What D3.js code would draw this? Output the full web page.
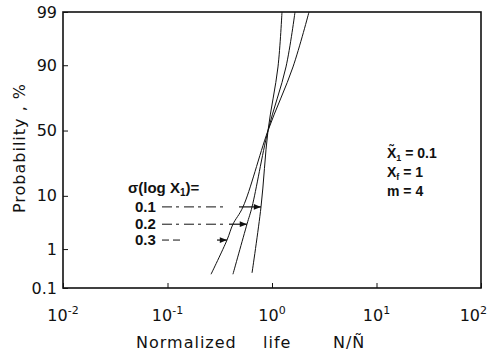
<!DOCTYPE html>
<html>
<head>
<meta charset="utf-8">
<script src="https://cdn.jsdelivr.net/npm/d3@7"></script>
<style>
  body { margin: 0; background: #fff; }
  svg { display: block; }
  .tick line { stroke: #111; }
  .thin { font-family: 'DejaVu Sans', sans-serif; fill: #111; }
  .bold { font-family: 'Liberation Sans', Arial, sans-serif; font-weight: bold; fill: #111; }
</style>
</head>
<body>
<svg width="489" height="357"></svg>
<script>
// curves: normalized life vs cumulative probability (%), one per sigma(log X1)
const sigmaLabels = ['0.1', '0.2', '0.3'];
const life01 = [0.644, 0.785, 0.916, 1.141, 1.246];
const prob01 = [0.26, 6.7, 50, 89.4, 99];
const life02 = [0.423, 0.576, 0.644, 0.916, 1.361, 1.66];
const prob02 = [0.24, 3.3, 6.7, 50, 89.4, 99];
const life03 = [0.261, 0.371, 0.423, 0.528, 0.916, 1.588, 2.26];
const prob03 = [0.24, 1.58, 3.3, 6.7, 50, 89.4, 99];

// where the arrows touch each curve
const arrowLife = [0.785, 0.576, 0.371];
const arrowProb = [6.7, 3.3, 1.58];

const xTicks = [0.01, 0.1, 1, 10, 100];
const xTickExp = ['-2', '-1', '0', '1', '2'];
const yTicks = [0.1, 1, 10, 50, 90, 99];
const yTickLabels = ['0.1', '1', '10', '50', '90', '99'];

const plotL = 63, plotR = 481, plotT = 12, plotB = 288;
const svg = d3.select('svg');

// inverse normal cdf (Acklam)
function probit(p) {
  const a = [-39.69683028665376, 220.9460984245205, -275.9285104469687, 138.357751867269, -30.66479806614716, 2.506628277459239];
  const b = [-54.47609879822406, 161.5858368580409, -155.6989798598866, 66.80131188771972, -13.28068155288572];
  const c = [-0.007784894002430293, -0.3223964580411365, -2.400758277161838, -2.549732539343734, 4.374664141464968, 2.938163982698783];
  const d = [0.007784695709041462, 0.3224671290700398, 2.445134137142996, 3.754408661907416];
  const pl = 0.02425;
  let q, r;
  if (p < pl) {
    q = Math.sqrt(-2 * Math.log(p));
    return (((((c[0]*q+c[1])*q+c[2])*q+c[3])*q+c[4])*q+c[5]) / ((((d[0]*q+d[1])*q+d[2])*q+d[3])*q+1);
  } else if (p <= 1 - pl) {
    q = p - 0.5; r = q * q;
    return (((((a[0]*r+a[1])*r+a[2])*r+a[3])*r+a[4])*r+a[5])*q / (((((b[0]*r+b[1])*r+b[2])*r+b[3])*r+b[4])*r+1);
  }
  q = Math.sqrt(-2 * Math.log(1 - p));
  return -(((((c[0]*q+c[1])*q+c[2])*q+c[3])*q+c[4])*q+c[5]) / ((((d[0]*q+d[1])*q+d[2])*q+d[3])*q+1);
}

const x = d3.scaleLog().domain([0.01, 100]).range([plotL, plotR]);
const yz = d3.scaleLinear().domain([probit(0.001), probit(0.99)]).range([plotB, plotT]);
const y = p => yz(probit(p / 100));

// frame
svg.append('rect')
  .attr('x', plotL).attr('y', plotT)
  .attr('width', plotR - plotL).attr('height', plotB - plotT)
  .attr('fill', 'none').attr('stroke', '#111').attr('stroke-width', 1.6);

// bottom axis, ticks pointing in
svg.append('g')
  .attr('transform', `translate(0,${plotB})`)
  .call(d3.axisBottom(x).tickValues(xTicks).tickSizeInner(-5).tickSizeOuter(0).tickFormat(''))
  .call(g => g.select('.domain').remove());

const xl = svg.append('g').attr('class', 'thin');
xTicks.forEach((v, i) => {
  const last = i === xTicks.length - 1;
  const t = xl.append('text')
    .attr('x', last ? 487 : x(v)).attr('y', 321)
    .attr('text-anchor', last ? 'end' : 'middle')
    .style('font-size', '16px');
  t.append('tspan').text('10');
  t.append('tspan').attr('dy', -7).style('font-size', '11px').text(xTickExp[i]);
});

// left axis
svg.append('g')
  .attr('transform', `translate(${plotL},0)`)
  .call(d3.axisLeft(yz).tickValues(yTicks.map(p => probit(p / 100)))
    .tickSizeInner(-5).tickSizeOuter(0).tickPadding(6)
    .tickFormat((d, i) => yTickLabels[i]))
  .call(g => g.select('.domain').remove())
  .call(g => g.selectAll('text')
    .style('font-size', '16px')
    .style('font-family', "'DejaVu Sans', sans-serif")
    .attr('fill', '#111'));

// curves
const line = d3.line()
  .x(d => x(d[0]))
  .y(d => y(d[1]))
  .curve(d3.curveCatmullRom);

[[life01, prob01], [life02, prob02], [life03, prob03]].forEach(([l, p]) => {
  svg.append('path')
    .attr('d', line(l.map((v, i) => [v, p[i]])))
    .attr('fill', 'none')
    .attr('stroke', '#111')
    .attr('stroke-width', 1);
});

// arrow head
svg.append('defs').append('marker')
  .attr('id', 'head')
  .attr('viewBox', '0 0 10 10')
  .attr('refX', 10).attr('refY', 5)
  .attr('markerWidth', 8).attr('markerHeight', 6)
  .attr('orient', 'auto')
  .append('path').attr('d', 'M0,1 L10,5 L0,9 Z').attr('fill', '#111');

// sigma annotation
const ann = svg.append('text').attr('class', 'bold')
  .attr('x', 128).attr('y', 193).style('font-size', '15px');
ann.append('tspan').text('σ(log X');
ann.append('tspan').attr('dy', 3).style('font-size', '10px').text('1');
ann.append('tspan').attr('dy', -3).text(')=');

const dashEnd = [228, 227, 183];
const solidLen = [22, 18, 10];
sigmaLabels.forEach((s, i) => {
  const ay = y(arrowProb[i]);
  const ax = x(arrowLife[i]);
  svg.append('text').attr('class', 'bold')
    .attr('x', 135).attr('y', ay + 5)
    .style('font-size', '15px')
    .text(s);
  svg.append('line')
    .attr('x1', 162).attr('x2', dashEnd[i])
    .attr('y1', ay).attr('y2', ay)
    .attr('stroke', '#111').attr('stroke-width', 1)
    .attr('stroke-dasharray', i === 2 ? '7,4' : '10,4,3,5');
  svg.append('line')
    .attr('x1', ax - solidLen[i]).attr('x2', ax)
    .attr('y1', ay).attr('y2', ay)
    .attr('stroke', '#111').attr('stroke-width', 1.2)
    .attr('marker-end', 'url(#head)');
});

// parameters
const par = svg.append('g').attr('class', 'bold').style('font-size', '14px');
const p1 = par.append('text').attr('x', 387).attr('y', 158);
p1.append('tspan').text('X\u0303');
p1.append('tspan').attr('dy', 3).style('font-size', '9px').text('1');
p1.append('tspan').attr('dy', -3).text(' = 0.1');
const p2 = par.append('text').attr('x', 387).attr('y', 177);
p2.append('tspan').text('X');
p2.append('tspan').attr('dy', 3).style('font-size', '9px').text('f');
p2.append('tspan').attr('dy', -3).text(' = 1');
par.append('text').attr('x', 387).attr('y', 196).text('m = 4');

// axis titles
const xt = svg.append('g').attr('class', 'thin').style('font-size', '16px').style('letter-spacing', '1px');
xt.append('text').attr('x', 136).attr('y', 348).text('Normalized');
xt.append('text').attr('x', 263).attr('y', 348).text('life');
xt.append('text').attr('x', 333).attr('y', 348).text('N/Ñ');

svg.append('text').attr('class', 'thin')
  .attr('transform', 'translate(25,148) rotate(-90)')
  .attr('text-anchor', 'middle')
  .style('font-size', '16px')
  .style('letter-spacing', '1px')
  .text('Probability , %');
</script>
</body>
</html>
